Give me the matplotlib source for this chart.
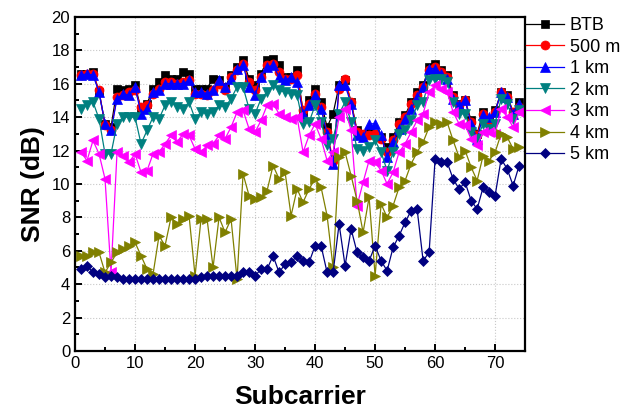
import numpy as np
import matplotlib
matplotlib.use("Agg")
import matplotlib.pyplot as plt
from matplotlib.ticker import MultipleLocator

plt.rcParams["font.family"] = ["Liberation Sans", "DejaVu Sans"]

# ----------------------------------------------------------
# data (SNR in dB per subcarrier)
# ----------------------------------------------------------
subcarrier = np.arange(1, 75)

btb = [16.6, 16.6, 16.7, 15.5, 13.6, 13.4, 15.7, 15.6, 15.7, 15.9,
       14.5, 14.8, 15.7, 16.1, 16.5, 16.3, 16.3, 16.7, 16.6, 15.7,
       15.7, 15.7, 16.3, 16.2, 15.8, 16.5, 17.0, 17.4, 16.3, 15.9,
       16.6, 17.4, 17.5, 17.1, 16.4, 16.4, 16.8, 14.3, 15.0, 15.7,
       14.9, 13.4, 14.2, 15.9, 16.2, 14.9, 13.2, 13.0, 13.1, 13.0,
       12.8, 12.2, 12.8, 13.7, 14.1, 14.9, 15.5, 15.9, 17.0, 17.2,
       16.8, 16.5, 15.3, 14.8, 15.0, 13.8, 13.0, 14.3, 13.8, 14.4,
       15.5, 15.3, 14.3, 14.9]

m500 = [16.5, 16.6, 16.6, 15.6, 13.5, 13.2, 15.2, 15.3, 15.5, 15.6,
        14.6, 14.7, 15.4, 15.7, 16.1, 16.1, 16.0, 16.1, 16.2, 15.4,
        15.4, 15.3, 15.6, 16.0, 15.6, 16.4, 16.8, 17.2, 16.1, 15.6,
        16.4, 17.1, 17.2, 16.7, 16.3, 16.3, 16.5, 14.4, 14.8, 15.4,
        14.6, 13.1, 11.4, 15.7, 16.3, 14.9, 13.1, 13.0, 12.9, 13.0,
        12.7, 11.9, 12.6, 13.6, 14.0, 14.8, 15.3, 15.8, 16.8, 17.0,
        16.7, 16.4, 15.2, 14.7, 15.0, 13.7, 12.9, 14.2, 13.6, 14.3,
        15.5, 15.2, 14.3, 14.6]

km1 = [16.5, 16.6, 16.5, 15.5, 13.6, 13.2, 15.1, 15.4, 15.3, 15.8,
       14.2, 14.5, 15.5, 15.6, 16.0, 16.0, 16.0, 16.0, 16.2, 15.5,
       15.5, 15.4, 15.6, 16.2, 15.8, 16.3, 16.9, 17.1, 15.8, 15.3,
       16.4, 17.0, 17.1, 16.4, 16.2, 16.4, 16.1, 14.2, 14.7, 15.3,
       14.5, 13.0, 11.2, 15.9, 15.9, 14.8, 12.9, 12.8, 13.6, 13.6,
       12.9, 11.6, 12.5, 13.3, 13.9, 14.5, 15.2, 15.8, 16.9, 16.9,
       16.6, 16.3, 15.1, 14.7, 15.0, 13.6, 12.7, 14.1, 14.0, 14.3,
       15.5, 15.2, 14.2, 14.8]

km2 = [14.5, 14.7, 14.9, 13.9, 11.8, 11.8, 13.6, 14.0, 14.0, 14.0,
       12.4, 13.2, 14.0, 13.9, 14.7, 14.9, 14.6, 14.5, 14.9, 13.9,
       14.3, 14.2, 14.3, 14.7, 14.6, 15.1, 15.8, 15.8, 14.5, 14.2,
       15.1, 15.5, 15.9, 15.6, 15.5, 15.4, 15.3, 13.6, 13.7, 14.7,
       13.7, 12.3, 12.7, 14.2, 14.9, 13.7, 12.1, 12.0, 12.2, 12.6,
       11.9, 10.8, 11.9, 13.0, 13.2, 13.8, 14.7, 14.9, 16.2, 16.3,
       16.3, 16.1, 14.9, 14.2, 14.2, 13.1, 12.7, 13.6, 13.3, 13.6,
       15.1, 14.8, 13.9, 14.4]

km3 = [11.9, 11.4, 12.6, 11.8, 10.3, 4.7, 11.9, 11.7, 11.3, 11.8,
       10.7, 10.8, 11.8, 11.9, 12.4, 12.9, 12.5, 13.0, 12.9, 12.1,
       11.9, 12.3, 12.4, 12.9, 12.7, 13.4, 14.3, 14.4, 13.3, 13.1,
       13.8, 14.7, 14.8, 14.2, 14.0, 13.9, 14.0, 11.9, 12.9, 13.6,
       12.7, 11.4, 11.9, 14.0, 14.5, 13.2, 8.7, 10.1, 11.4, 11.3,
       10.8, 10.0, 10.7, 11.9, 12.4, 13.1, 13.8, 14.2, 15.5, 15.9,
       15.7, 15.5, 14.3, 13.6, 13.5, 12.7, 12.3, 13.1, 13.1, 13.0,
       14.5, 14.0, 13.4, 14.3]

km4 = [5.7, 5.7, 5.9, 5.9, 4.7, 5.3, 5.9, 6.1, 6.3, 6.5,
       5.7, 4.9, 4.6, 6.9, 6.3, 8.0, 7.6, 7.9, 8.1, 4.5,
       7.9, 7.9, 5.0, 8.0, 7.1, 7.9, 4.3, 10.6, 9.3, 9.1,
       9.2, 9.6, 11.1, 10.3, 10.7, 8.1, 9.7, 8.9, 9.7, 10.3,
       9.8, 8.1, 5.0, 11.6, 11.9, 10.5, 9.0, 7.1, 9.2, 4.5,
       8.8, 8.0, 8.7, 9.8, 10.2, 11.2, 11.9, 12.5, 13.4, 13.7,
       13.6, 13.7, 12.6, 11.6, 12.0, 11.0, 10.2, 11.7, 11.4, 11.9,
       13.0, 12.8, 12.1, 12.2]

km5 = [4.9, 5.1, 4.7, 4.6, 4.4, 4.5, 4.4, 4.3, 4.3, 4.3,
       4.3, 4.3, 4.3, 4.3, 4.3, 4.3, 4.3, 4.3, 4.3, 4.3,
       4.4, 4.5, 4.5, 4.5, 4.5, 4.5, 4.5, 4.7, 4.7, 4.5,
       4.9, 4.9, 5.7, 4.7, 5.2, 5.3, 5.7, 5.4, 5.3, 6.3,
       6.3, 4.7, 4.7, 7.6, 5.1, 7.3, 5.9, 5.6, 5.4, 6.3,
       5.4, 4.8, 6.2, 6.9, 7.7, 8.4, 8.5, 5.4, 5.9, 11.5,
       11.3, 11.3, 10.3, 9.7, 10.1, 9.0, 8.5, 9.8, 9.5, 9.3,
       11.5, 10.9, 9.9, 11.1]

labels = ["BTB", "500 m", "1 km", "2 km", "3 km", "4 km", "5 km"]
series = [btb, m500, km1, km2, km3, km4, km5]
colors = ["#000000", "#ff0000", "#0000ff", "#008080", "#ff00ff", "#808000", "#000080"]
markers = ["s", "o", "^", "v", "<", ">", "D"]
sizes = [6, 6.5, 7, 7, 7, 7, 5.5]

# ----------------------------------------------------------
# figure
# ----------------------------------------------------------
fig = plt.figure(figsize=(6.2, 4.11), dpi=100)
ax = fig.add_axes([0.121, 0.146, 0.726, 0.813])

for y, lab, c, m, s in zip(series, labels, colors, markers, sizes):
    ax.plot(subcarrier, y, color=c, marker=m, markersize=s, linewidth=0.9,
            markeredgewidth=0.5, markeredgecolor=c, label=lab)

ax.set_xlim(0, 75)
ax.set_ylim(0, 20)
ax.xaxis.set_major_locator(MultipleLocator(10))
ax.xaxis.set_minor_locator(MultipleLocator(5))
ax.yaxis.set_major_locator(MultipleLocator(2))
ax.yaxis.set_minor_locator(MultipleLocator(1))

ax.grid(True, which="major", linestyle=":", color="#c8c8c8", linewidth=0.8)
ax.set_axisbelow(True)

for sp in ax.spines.values():
    sp.set_linewidth(1.6)
ax.tick_params(which="both", direction="in", top=False, right=False,
               width=1.4, labelsize=12)
ax.tick_params(which="major", length=5)
ax.tick_params(which="minor", length=3)

ax.set_xlabel("Subcarrier", fontsize=19, fontweight="bold", labelpad=10)
ax.set_ylabel("SNR (dB)", fontsize=19, fontweight="bold", labelpad=5)

fig.legend(loc="upper left", bbox_to_anchor=(0.848, 0.958), frameon=False,
           fontsize=13, borderpad=0, borderaxespad=0, handlelength=2.1,
           handletextpad=0.35, labelspacing=0.25)

fig.savefig("out.png", dpi=100)
